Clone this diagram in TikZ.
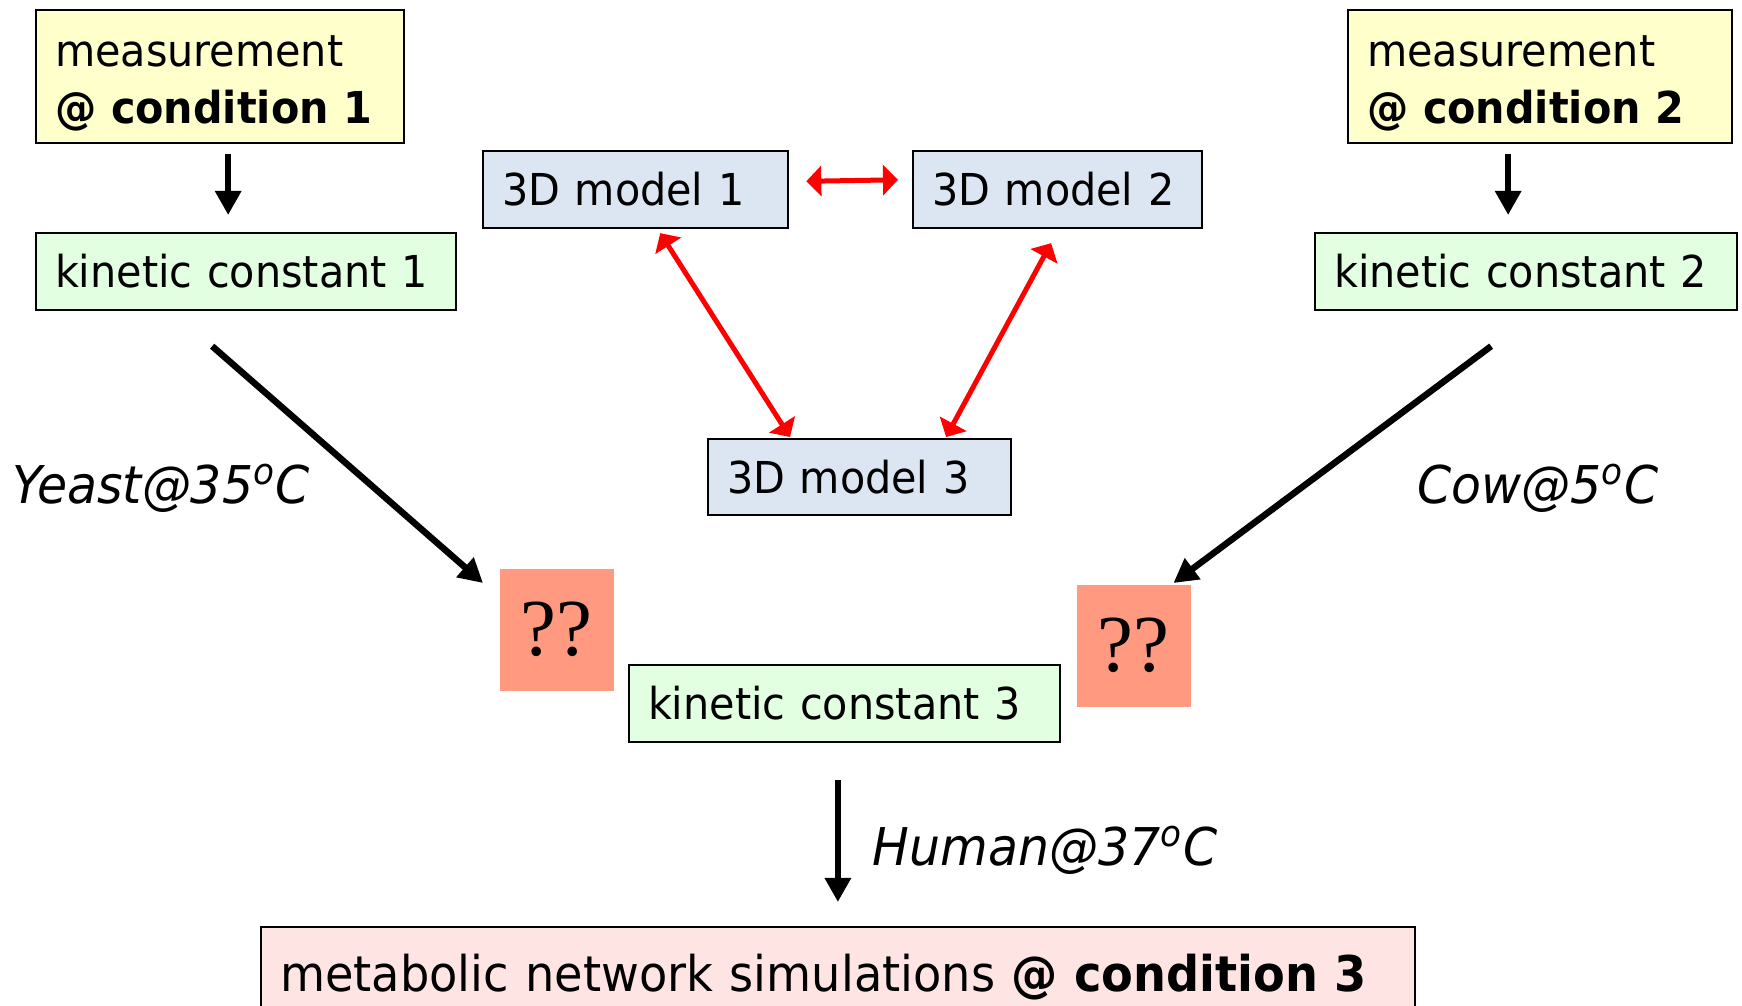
\documentclass[tikz,border=0pt]{standalone}
\usepackage{fontspec}
\setmainfont[FakeStretch=0.94]{DejaVu Sans}
\newfontfamily\qfont{Liberation Serif}
\usetikzlibrary{arrows.meta}
\definecolor{measfill}{RGB}{255,255,204}
\definecolor{kinfill}{RGB}{226,255,226}
\definecolor{modfill}{RGB}{220,230,242}
\definecolor{qfill}{RGB}{255,153,128}
\definecolor{simfill}{RGB}{255,228,228}

\begin{document}
\begin{tikzpicture}[x=0.01cm,y=-0.01cm,
    box/.style={draw,line width=0.6pt,anchor=north west,align=left,inner xsep=0.19cm,inner ysep=0pt,
      font=\fontsize{12.5}{16.2}\selectfont},
    qbox/.style={fill=qfill,anchor=north west,minimum width=1.14cm,minimum height=1.22cm,inner sep=0pt,
      font=\qfont\fontsize{23}{23}\selectfont},
    lbl/.style={inner sep=0pt,font=\fontsize{14.8}{16}\selectfont\itshape},
    blk/.style={-{Triangle[width=0.25cm,length=0.24cm]},line width=0.065cm},
    rd/.style={{Triangle[width=0.3cm,length=0.15cm]}-{Triangle[width=0.3cm,length=0.15cm]},red,line width=0.05cm}]
                \useasboundingbox (0,0) rectangle (1742,1006);
                \node[box,fill=measfill,text width=3.30cm,minimum height=1.33cm] (ms1) at (35,9) {\rule{0pt}{0.45cm}measurement\\\textbf{@ condition 1}};
                \node[box,fill=measfill,text width=3.46cm,minimum height=1.33cm] (ms2) at (1347,9) {\rule{0pt}{0.45cm}measurement\\\textbf{@ condition 2}};
                \node[box,fill=kinfill,text width=3.82cm,minimum height=0.77cm] (kc1) at (35,232) {kinetic constant 1};
                \node[box,fill=kinfill,text width=3.84cm,minimum height=0.77cm] (kc2) at (1314,232) {kinetic constant 2};
                \node[box,fill=modfill,text width=2.67cm,minimum height=0.77cm] (m1) at (482,150) {3D model 1};
                \node[box,fill=modfill,text width=2.51cm,minimum height=0.77cm] (m2) at (912,150) {3D model 2};
                \node[box,fill=modfill,text width=2.65cm,minimum height=0.76cm] (m3) at (707,438) {3D model 3};
                \node[qbox] (q1) at (499,568) {??};
                \node[qbox] (q2) at (1076,584) {??};
                \node[box,fill=kinfill,text width=3.93cm,minimum height=0.77cm] (kc3) at (628,664) {kinetic constant 3};
                \node[box,fill=simfill,text width=11.15cm,minimum height=1.0cm,font=\fontsize{14}{16}\selectfont] (met) at (260,926) {metabolic network simulations \textbf{@ condition 3}};
                \node[lbl,anchor=base west] (yeast) at (12,503) {Yeast@35\textsuperscript{o}C};
                \node[lbl,anchor=base west] (cow) at (1417,503) {Cow@5\textsuperscript{o}C};
                \node[lbl,anchor=base west] (human) at (872,865) {Human@37\textsuperscript{o}C};
                \draw[blk,shorten <=0.1cm,shorten >=0.17cm] ([xshift=0.08cm]ms1.south) -- ([xshift=0.08cm]ms1.south |- kc1.north);
                \draw[blk,shorten <=0.1cm,shorten >=0.17cm] ([xshift=-0.32cm]ms2.south) -- ([xshift=-0.32cm]ms2.south |- kc2.north);
                \draw[blk] ([xshift=-0.34cm,yshift=-0.35cm]kc1.south) -- ([xshift=-0.16cm,yshift=-0.15cm]q1.north west);
                \draw[blk] ([xshift=-0.35cm,yshift=-0.35cm]kc2.south) -- ([xshift=-0.18cm,yshift=0.01cm]q2.north east);
                \draw[blk,shorten <=0.37cm,shorten >=0.24cm] (kc3.south -| met.north) -- (met.north);
                \draw[rd,shorten <=0.17cm,shorten >=0.14cm] ([yshift=0.08cm]m1.east) -- ([yshift=0.1cm]m2.west);
                \draw[rd] ([xshift=-1.29cm,yshift=-0.04cm]m1.south east) -- ([xshift=0.83cm,yshift=0.01cm]m3.north west);
                \draw[rd] ([xshift=1.39cm,yshift=-0.14cm]m2.south west) -- ([xshift=2.39cm,yshift=0.01cm]m3.north west);
            \end{tikzpicture}
\end{document}
